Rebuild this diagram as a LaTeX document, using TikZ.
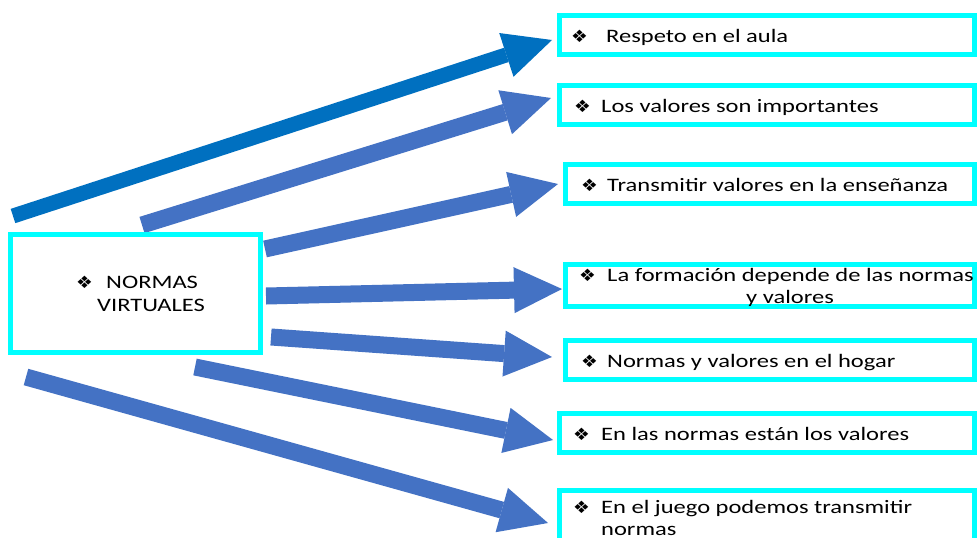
\documentclass[tikz,border=0pt]{standalone}
\usepackage{fontspec}
\setmainfont{Carlito}[FakeStretch=1.29]
\newfontfamily\symfont{DejaVu Sans}[FakeStretch=1.1]
\usetikzlibrary{arrows.meta}
\definecolor{cyanb}{HTML}{00FFFF}
\definecolor{arrA}{HTML}{0070C0}
\definecolor{arrB}{HTML}{4472C4}
\tikzset{
  box/.style={draw=cyanb, line width=5pt, fill=white, inner sep=0pt},
  lbl/.style={anchor=base west, inner sep=0pt, font=\fontsize{19}{23}\selectfont},
  bul/.style={anchor=base west, inner sep=0pt, font=\fontsize{17}{19}\symfont},
  blk/.style={line width=17pt, draw=arrB, -{Triangle[length=48pt,width=46pt,line width=0pt]}},
}
\begin{document}
\begin{tikzpicture}[x=1pt,y=-1pt]
\useasboundingbox (0,0) rectangle (977,538);
\fill[white] (0,0) rectangle (977,538);
% arrow ends
\coordinate (s1) at (13,216);  \coordinate (e1) at (552,40);
\coordinate (s2) at (142,225); \coordinate (e2) at (551,98);
\coordinate (s3) at (265,249); \coordinate (e3) at (558,184);
\coordinate (s4) at (266,296); \coordinate (e4) at (562,289);
\coordinate (s5) at (271,337); \coordinate (e5) at (552,357);
\coordinate (s6) at (195,367); \coordinate (e6) at (553,440);
\coordinate (s7) at (26,377);  \coordinate (e7) at (548,523);
\draw[blk, draw=arrA, line width=15pt] (s1) -- (e1);
\draw[blk] (s2) -- (e2);
\draw[blk] (s3) -- (e3);
\draw[blk] (s4) -- (e4);
\draw[blk] (s5) -- (e5);
\draw[blk] (s6) -- (e6);
\draw[blk] (s7) -- (e7);
% boxes
\node[box, minimum width=250pt, minimum height=118pt] (L) at (135.5,293.5) {};
\node[box, minimum width=415pt, minimum height=39pt] (b1) at (767,35) {};
\node[box, minimum width=415pt, minimum height=39pt] (b2) at (767,105) {};
\node[box, minimum width=409pt, minimum height=39pt] (b3) at (770,184) {};
\node[box, minimum width=409pt, minimum height=42pt] (b4) at (770,285.5) {};
\node[box, minimum width=409pt, minimum height=39pt] (b5) at (770,360) {};
\node[box, minimum width=415pt, minimum height=39pt] (b6) at (767,433) {};
\node[box, minimum width=415pt, minimum height=52pt] (b7) at (767,516.5) {};
% bullets
\node[bul] (uL) at (76,288) {❖};
\node[bul] (u1) at (571,42) {❖};
\node[bul] (u2) at (574,112) {❖};
\node[bul] (u3) at (581,191) {❖};
\node[bul] (u4) at (579,281) {❖};
\node[bul] (u5) at (581,367) {❖};
\node[bul] (u6) at (573,440) {❖};
\node[bul] (u7) at (573,513) {❖};
% texts
\node[lbl] (tL1) at (106,288) {NORMAS};
\node[lbl] (tL2) at (97,311) {VIRTUALES};
\node[lbl] (t1) at (606,42) {Respeto en el aula};
\node[lbl] (t2) at (601,112) {Los valores son importantes};
\node[lbl] (t3) at (607,191) {Transmitir valores en la enseñanza};
\node[lbl] (t4a) at (607,281) {La formación depende de las normas};
\node[lbl, anchor=base] (t4b) at (790,303) {y valores};
\node[lbl] (t5) at (607,367) {Normas y valores en el hogar};
\node[lbl] (t6) at (601,440) {En las normas están los valores};
\node[lbl] (t7a) at (601,513) {En el juego podemos transmitir};
\node[lbl] (t7b) at (601,535) {normas};
\end{tikzpicture}
\end{document}
